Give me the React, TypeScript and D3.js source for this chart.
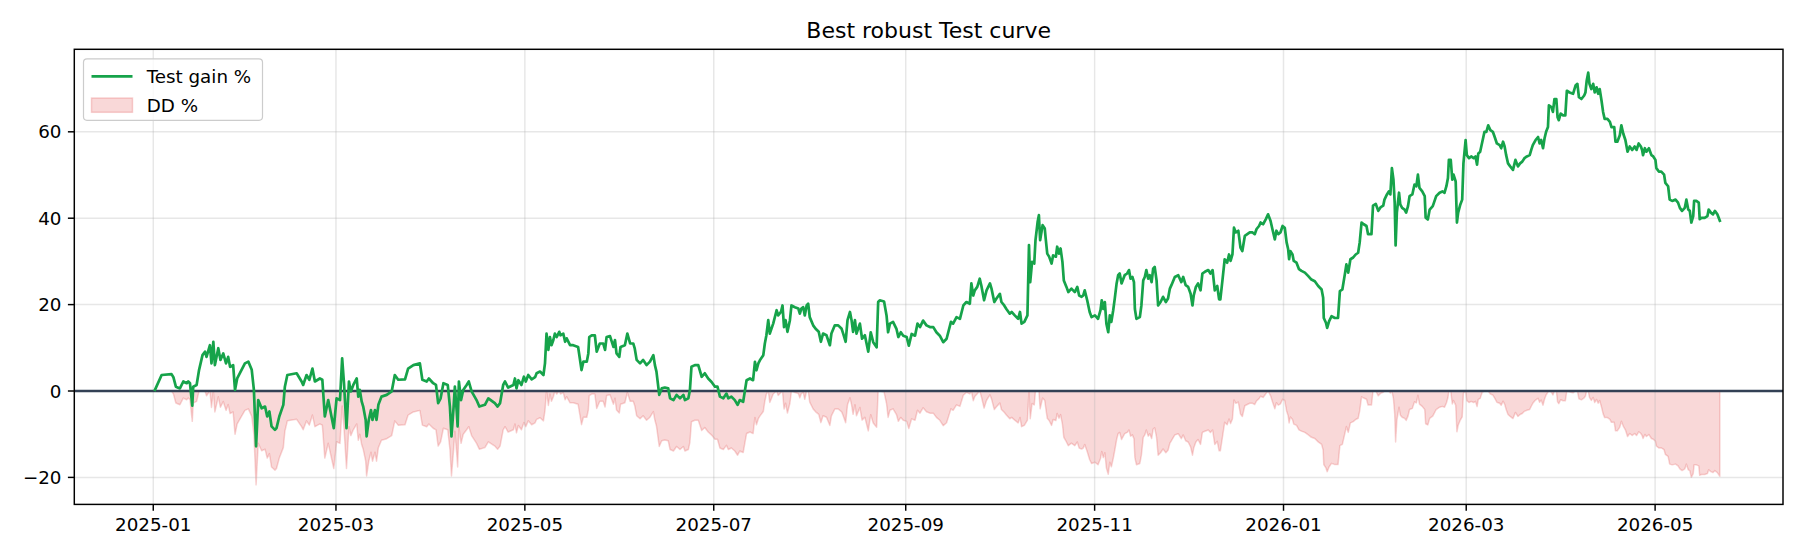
import * as d3 from 'd3';

const WIDTH = 1820;
const HEIGHT = 560;
const MARGIN = { top: 49.3, right: 37, bottom: 55.6, left: 74.3 };

const TITLE = 'Best robust Test curve';
const FONT = '"DejaVu Sans", sans-serif';

// test gain % : [days since 2025-01-01, gain %]
const GAIN_JAN_FEB_2025: [number, number][] = [
    [0.55, 0.25], [2.7, 3.7], [5.9, 3.9], [6.5, 3.2], [7.3, 1.0], [8.6, 0.6], [9.7, 2.2], [10.8, 1.8],
    [11.3, 2.2], [11.85, 1.8], [12.6, -3.4], [12.9, 1.0], [14, 1.4], [14.8, 4.9], [15.9, 8.3], [16.7, 9.1],
    [17.2, 7.9], [18.3, 10.6], [18.8, 6.4], [19.4, 11.4], [19.9, 6.0], [21, 9.9], [21.7, 7.2], [22.6, 8.7],
    [23.5, 6.4], [24.2, 7.9], [24.8, 5.6], [25.8, 6.0], [26.4, 0.25], [27.1, 2.9], [29.6, 6.4], [30.7, 6.8],
    [31.8, 4.9], [32.5, 0.25], [33.2, -12.8], [33.9, -2.1], [35, -4], [36.1, -3.6], [36.8, -5.9], [37.5, -4.75],
    [38.2, -8.2], [39.3, -9], [39.8, -8.6], [40.7, -5.9], [42, -3.2], [42.5, 1], [43.3, 3.7], [46.3, 4.1],
    [47.9, 2.2], [48.4, 1.4], [49.5, 3.7], [50.4, 2.6], [51.4, 5.2], [52.2, 2.2], [53.8, 2.9], [54.6, 2.6],
    [55.4, -5.9], [56.5, -2.1],
];

const GAIN_MAR_APR_2025: [number, number][] = [
    [58.3, -8.6], [59.2, -1.7], [60.3, -2.1], [61.0, 7.55], [61.6, 1.8], [62.4, -8.6], [63.2, 2.2], [63.8, -0.1],
    [64.6, 1.4], [65.7, 2.9], [66.2, -1.3], [66.7, 0.25], [67.3, -2.4], [67.8, -3.6], [68.6, -6.7], [68.9, -10.5],
    [69.6, -6.7], [70.3, -4.4], [70.8, -6.7], [71.6, -4.4], [72.1, -6.7], [72.7, -3.2], [73.7, -1.3], [75.4, -0.9],
    [77, -0.1], [78.0, 3.7], [79.1, 2.6], [81.3, 2.7], [82.3, 5.2], [84.0, 6.0], [86.1, 6.4], [86.9, 2.6],
    [88.3, 2.2], [89.0, 2.9], [90.4, 1.8], [91.3, 1.4], [92.0, -2.8], [92.8, -1.7], [93.7, 1.8], [95.1, 1.4],
    [95.8, -3.6], [96.3, -10.5], [97.0, -3.6], [97.4, 1], [98.0, -4.75], [98.3, -8.2], [98.7, 2.2], [99.4, -2.1],
    [100.1, 0.25], [101.2, 1.4], [101.9, 2.2], [102.8, -0.1], [104.4, -2.1], [105.3, -3.6], [107.1, -3.2],
    [108.2, -1.7], [110.3, -2.8], [111.2, -3.6],
];

const GAIN_MAY_JUN_2025: [number, number][] = [
    [112, -2.8], [113.0, 1.4], [113.6, 2.2], [114.6, 0.8], [116.3, 1.4], [116.8, 2.9], [117.3, 0.6], [117.9, 2.5],
    [118.9, 1.4], [119.7, 3.3], [120.3, 2.2], [121.1, 3.7], [122.2, 2.7], [123.3, 3.2], [123.8, 4.1], [124.9, 4.5],
    [126, 3.7], [126.5, 6.4], [127.0, 13.3], [127.6, 9.5], [128.1, 12.5], [128.6, 10.6], [129.2, 11.8], [129.7, 13.3],
    [130.3, 12.5], [131.1, 13.7], [131.5, 12.9], [132.4, 13.3], [133, 11.4], [133.5, 12.2], [134.6, 10.6],
    [135.6, 10.6], [137.2, 10.2], [138.3, 4.85], [138.9, 6.8], [140, 6.8], [140.5, 8.7], [140.8, 12.5],
    [141.6, 12.9], [142.6, 12.9], [143.2, 9.1], [144.2, 11], [145.3, 11], [145.9, 9.5], [146.4, 12.5],
    [147.5, 12.7], [148.6, 10.2], [149.1, 11.8], [149.6, 8.7], [150.5, 7.9], [150.9, 10.2], [152.3, 10.6],
    [153.1, 13.3], [154, 11], [155, 11], [155.5, 9.8], [156.1, 7.2], [157.2, 6.4], [158.2, 7.2], [159.3, 6],
    [160.4, 6.8], [161.5, 8.3], [162, 6], [162.5, 4.5], [163.4, -0.9], [164.2, 0.6], [165.2, 0.8], [166.3, 0.6],
    [166.9, -1.7], [168, -2.1], [169, -0.9], [170.1, -1.7], [171.2, -0.9], [171.7, -2.1], [172.8, -1.7],
    [173.3, 0.2], [173.8, 5.6], [174.9, 6],
];

const GAIN_JUL_AUG_2025: [number, number][] = [
    [176, 6], [177.1, 3.3], [178.1, 4.1], [179.2, 2.9], [180.3, 2.1], [181.4, 1], [182.2, 1], [183, -1.3],
    [184.1, -1.7], [185.1, -0.6], [185.7, -1.7], [186.7, -1.3], [187.8, -2.1], [188.7, -3.2], [189.4, -2.1],
    [190.5, -2.5], [191.0, -0.2], [191.6, 2.5], [192.7, 2.9], [193.7, 2.5], [194.3, 6.75], [194.8, 4.8],
    [195.4, 6.4], [195.9, 7.1], [197, 8.3], [197.5, 11], [198.0, 12.9], [198.6, 16.4], [199.1, 13.3],
    [200.2, 15.6], [201.3, 18.7], [201.8, 17.5], [202.7, 18.3], [203.2, 19.8], [203.7, 14.8], [204.2, 16.4],
    [204.8, 13.7], [205.6, 16.4], [206.1, 19.8], [207.2, 19.4], [208.3, 19.1], [208.8, 17.9], [209.3, 19.1],
    [209.9, 19.4], [210.4, 17.5], [211, 19.8], [211.5, 20.2], [212, 17.1], [213.1, 15.2], [213.9, 14.4],
    [214.9, 13.7], [215.6, 11.4], [216.3, 13.3], [217.4, 12.9], [218.5, 10.6], [219, 13.3], [220.1, 15.2],
    [221.2, 15.2], [222.3, 14.4], [222.8, 13.3], [223.6, 11.4], [224.2, 16.4], [225, 18.3], [225.5, 16.4],
    [226, 13.7], [226.6, 16.4], [227.1, 13.3], [228.2, 15.6], [228.9, 12.1], [229.8, 12.9], [230.9, 9.1],
];

const GAIN_SEP_OCT_2025: [number, number][] = [
    [231.7, 13.6], [232.5, 11.3], [233.6, 10.1], [234.1, 20.6], [234.6, 21], [236.0, 20.7], [236.8, 17.5],
    [237.3, 13.6], [237.9, 15.6], [238.9, 16], [240.0, 14.4], [240.6, 12.5], [241.4, 13.6], [242.2, 12.8],
    [243.3, 12.5], [244, 10.5], [244.9, 13.2], [246, 12.8], [246.8, 15.6], [247.6, 14.8], [248.6, 16.3],
    [249.7, 15.2], [250.8, 14.8], [251.9, 14.8], [252.9, 13.6], [254, 12.8], [255.1, 11.3], [256.2, 12.1],
    [257.6, 16], [258.3, 15.6], [259.4, 17.1], [260.5, 16.7], [261.6, 19.8], [262.6, 20.6], [263.7, 20.2],
    [264.2, 24.9], [264.8, 22.1], [265.3, 23.3], [266.1, 24.1], [266.9, 26], [267.5, 24.1], [268.3, 21],
    [269.1, 23.3], [270.2, 24.9], [270.7, 23.7], [271.6, 20.6], [272.3, 21.4], [273.4, 22.5], [273.9, 20.6],
    [274.8, 19.8], [275.5, 19], [276.6, 17.9], [277.2, 18.3], [278.2, 17.5], [279.3, 16.7], [279.9, 18.3],
    [280.4, 15.6], [281.3, 16], [282.3, 17.5], [282.8, 33.8], [283.2, 25.2], [283.8, 29.9], [284.5, 29.5],
    [284.9, 34.9], [285.6, 39.2], [286, 40.7], [286.4, 34.9],
    [287.2, 38.4], [287.9, 37.6], [288.2, 35.3], [288.7, 31.8], [289.3, 31.1], [290.1, 29.5], [290.6, 31.4],
    [291.5, 31.1], [291.9, 33.4], [292.5, 31.8], [293, 33], [293.6, 29.9], [294.05, 25.6], [294.9, 24.1],
    [295.5, 22.9], [296.5, 23.7], [297.6, 22.9], [298.4, 24.1], [299, 22.1], [299.8, 21.8], [300.3, 22.1],
    [300.8, 23.3], [301.6, 21], [302.4, 18.3], [303, 17.1],
];

const GAIN_NOV_DEC_2025: [number, number][] = [
    [304.1, 17.5], [305.1, 16.7], [305.9, 18.7], [306.3, 21], [306.8, 19], [307.3, 20.6], [307.8, 15.6],
    [308.4, 13.6], [308.9, 17.5], [309.4, 16], [310, 18.7], [310.5, 21.4], [311.1, 24.9], [311.6, 26.8],
    [312.1, 27.2], [312.7, 24.9], [313.7, 26.8], [314.5, 27.2], [315.1, 28], [315.6, 26], [316.2, 26.4],
    [316.7, 25.2], [317, 19], [317.5, 16.7], [318.6, 17.1], [319.1, 19.8], [319.7, 25.6], [320.2, 26.4],
    [320.7, 28], [321.3, 26], [321.8, 26.8], [322.4, 25.2], [322.9, 28.3], [323.4, 28.7], [324, 25.6],
    [324.5, 19.8], [325.3, 20.6], [326.1, 21.8], [327, 20.6], [327.7, 21.4], [328.3, 23.7], [328.8, 24.5],
    [329.9, 26.4], [331, 26.8], [332, 25.2], [332.6, 26.4], [333.4, 24.5], [334.2, 24.1], [335, 22.5],
    [335.6, 19.8], [336, 22.1], [336.7, 24.1], [337.4, 24.9], [338.2, 23.3], [338.8, 27.2], [339.6, 27.6],
    [340.7, 28], [341.4, 27.2], [342.1, 28], [342.8, 23.3],
    [343.6, 24.3], [344.2, 21.2], [344.6, 21.2], [345.3, 25.8], [346.0, 30.5], [346.8, 29.7], [347.4, 31.6],
    [347.9, 30.1], [348.5, 31.6], [349, 37.8], [349.6, 36.7], [350.4, 37.1], [351.1, 33.2], [351.7, 32.4],
    [352.5, 35.9], [353.3, 36.3], [354.1, 36.7], [355, 36.7], [355.7, 36.3], [356.3, 37.5], [357.1, 38.2],
    [357.6, 39], [358.4, 38.6], [359.3, 39.8], [360, 40.9], [360.8, 39.4], [361.4, 37.5], [362.2, 35.1],
    [362.7, 37.1], [363.3, 36.3], [364, 36.7], [364.7, 38.2],
];

const GAIN_JAN_FEB_2026: [number, number][] = [
    [365.4, 37.8], [366, 34.4], [366.5, 32.8], [366.8, 30.5], [367.2, 32.4], [367.9, 31.6], [368.3, 30.1],
    [369.2, 29.7], [370, 28.2], [370.8, 27.8], [371.9, 27.4], [373, 26.6], [374, 25.8], [375.1, 25.4],
    [376.2, 24.3], [377.3, 23.5], [377.8, 21.6], [378, 16.9], [378.7, 15.8], [379.1, 14.6], [379.7, 16.1],
    [380.5, 17.3], [381.6, 16.9], [382.6, 16.9], [383.2, 23.1], [384, 23.5], [384.8, 27], [385.3, 29.3],
    [385.9, 27.4], [386.6, 30.5], [387.5, 30.9], [388.3, 31.6], [389.1, 32], [389.6, 34.4], [390.2, 39],
    [390.9, 38.6], [391.8, 38.2], [392.3, 36.3], [393.4, 36.3], [393.9, 42.9], [394.8, 43.3], [395.6, 41.7],
    [396.3, 42.5], [397.2, 42.9],
    [397.6, 44.3], [398.4, 45.5], [399, 46.2], [399.5, 45.5], [400, 51.6], [400.5, 48.9], [400.9, 43.6],
    [401.2, 33.7], [401.6, 41.3], [402.3, 45.9], [402.7, 43.2], [403.3, 42.4], [404.1, 42], [404.6, 41.3],
    [405.2, 42.8], [405.7, 45.1], [406.6, 45.5], [407.3, 47.8], [407.9, 47.4], [408.4, 50.1], [408.9, 47],
    [409.8, 46.2], [410.6, 45.1], [410.9, 40.1], [411.6, 39.7], [412.2, 42], [413.2, 42.8], [414.3, 45.1],
    [415.4, 45.9], [416.3, 46.2], [417, 45.9], [417.6, 47.4], [418.1, 49.3], [418.4, 53.5], [419, 53.5],
    [419.5, 48.9], [419.9, 50.1], [420.6, 48.5], [421, 39], [421.4, 41.3], [422.1, 43.2], [422.7, 44.3],
    [423.1, 52.7],
];

const GAIN_MAR_APR_2026: [number, number][] = [
    [423.8, 58.1], [424.2, 54.6], [424.9, 53.9], [425.6, 54.3], [426.4, 53.9], [427, 54.3], [427.5, 52.4],
    [427.9, 55], [428.5, 55.4], [429.2, 57.7], [429.9, 60], [430.5, 60], [431.1, 61.5], [431.8, 60.4],
    [432.6, 60], [433.2, 58.8], [433.9, 57.3], [434.8, 56.9], [435.3, 56.2], [435.9, 57.7], [436.4, 56.6],
    [436.9, 54.6], [437.5, 52.7], [438.2, 52], [439.1, 51.2], [439.9, 53.5], [440.7, 52], [441.4, 52.7],
    [442.1, 53.1], [442.8, 53.9], [443.6, 54.3], [444.5, 54.6], [445, 55.8], [445.5, 56.9], [446.4, 58.1],
    [447.2, 58.8], [447.7, 57.3], [448.2, 58.1], [448.8, 56.2], [449.3, 58.5], [449.8, 60], [450.4, 61.1],
    [450.7, 66.1], [451.5, 65.7], [452, 64.6], [452.5, 67.6],
    [453.1, 67.6], [453.5, 63.4], [453.9, 62.7], [454.5, 64.2], [455.3, 63.8], [456, 63.8], [456.5, 69.5],
    [457.4, 69.1], [458.5, 68.8], [459.3, 70.7], [459.9, 71.1], [460.4, 68], [461.2, 67.6], [462.1, 68.4],
    [462.5, 69.1], [462.9, 71.8], [463.4, 73.7], [463.8, 71.1], [464.4, 69.9], [465, 71.1], [465.5, 69.1],
    [466.1, 70.3], [466.6, 68.8], [467.1, 69.9], [467.7, 67.2], [468.2, 64.6], [468.7, 63], [469.6, 63],
    [470.4, 62.3], [470.9, 61.1], [471.8, 61.1], [472.2, 57.7], [472.8, 57.7], [473.6, 59.2], [474.1, 61.5],
    [474.7, 59.6], [475.4, 58.1], [476.1, 55.4], [476.8, 56.6], [477.6, 55.8], [478.4, 56.6], [479, 55.8],
    [479.7, 57.3], [480.4, 56.6], [480.8, 55.8], [481.1, 54.6], [481.7, 56.2], [482.2, 55.4], [483, 56.2],
    [483.8, 54.6], [484.4, 54.3],
];

const GAIN_MAY_2026: [number, number][] = [
    [485.1, 53.5], [485.4, 51.6], [486.2, 50.8], [487, 50.8], [487.9, 50.1], [488.3, 48.2], [489.2, 47.4],
    [489.7, 44.3], [490.5, 44], [491.6, 44.3], [492.4, 43.6], [493, 42.4], [493.7, 41.7], [494.6, 42.4],
    [495.1, 44.3], [495.7, 42], [496.2, 41.7], [496.7, 39], [497.3, 40.5], [497.6, 44], [498.3, 44],
    [499.1, 43.6], [499.4, 39.8], [500, 40.1], [501, 40.1], [501.9, 40.5], [502.3, 42], [503, 41.3],
    [503.7, 40.9], [504.3, 41.7], [505.1, 40.9], [505.9, 39.4],
];

const X_TICKS = ['2025-01', '2025-03', '2025-05', '2025-07', '2025-09', '2025-11', '2026-01', '2026-03', '2026-05'];
const Y_TICKS = [-20, 0, 20, 40, 60];
const X_LIMITS = [-25.5, 526.3]; // days since 2025-01-01
const Y_LIMITS = [-26.25, 79.1];

const GREEN = '#16a34a';
const RED = '#dc2626';
const ZERO = '#334155';

const START = Date.UTC(2025, 0, 1);
const toDate = (d: number) => new Date(START + d * 864e5);
const parseMonth = d3.utcParse('%Y-%m');
const fmtY = (v: number) => (v < 0 ? '\u2212' + Math.abs(v) : String(v));

type Pt = { date: Date; gain: number; dd: number };

export default function App() {
    const raw = [
        ...GAIN_JAN_FEB_2025, ...GAIN_MAR_APR_2025, ...GAIN_MAY_JUN_2025, ...GAIN_JUL_AUG_2025,
        ...GAIN_SEP_OCT_2025, ...GAIN_NOV_DEC_2025, ...GAIN_JAN_FEB_2026, ...GAIN_MAR_APR_2026, ...GAIN_MAY_2026,
    ];

    // drawdown from the running equity peak
    let peak = 0;
    const data: Pt[] = raw.map(([d, g]) => {
        peak = Math.max(peak, g);
        return { date: toDate(d), gain: g, dd: ((1 + g / 100) / (1 + peak / 100) - 1) * 100 };
    });

    const left = MARGIN.left;
    const right = WIDTH - MARGIN.right;
    const top = MARGIN.top;
    const bottom = HEIGHT - MARGIN.bottom;

    const xScale = d3.scaleUtc().domain([toDate(X_LIMITS[0]), toDate(X_LIMITS[1])]).range([left, right]);
    const yScale = d3.scaleLinear().domain(Y_LIMITS).range([bottom, top]);

    const linePath = d3.line<Pt>().x(d => xScale(d.date)).y(d => yScale(d.gain))(data) ?? '';
    const ddPath = d3.area<Pt>().x(d => xScale(d.date)).y0(yScale(0)).y1(d => yScale(d.dd))(data) ?? '';

    const xTicks = X_TICKS.map(t => ({ label: t, x: xScale(parseMonth(t) as Date) }));

    const fontSize = 18.3;
    const tickLen = 6.4;

    return (
        <svg width={WIDTH} height={HEIGHT} style={{ position: 'absolute', left: 0, top: 0, background: '#fff' }}
            fontFamily={FONT}>
            <rect x={0} y={0} width={WIDTH} height={HEIGHT} fill="#fff" />
            <text x={(left + right) / 2} y={37.5} textAnchor="middle" fontSize={22} fill="#000">{TITLE}</text>

            <path d={ddPath} fill={RED} fillOpacity={0.18} stroke={RED} strokeOpacity={0.2} strokeWidth={1.5}
                strokeLinejoin="round" />

            {/* grid */}
            {xTicks.map(t => (
                <line key={t.label} x1={t.x} x2={t.x} y1={top} y2={bottom} stroke="#b0b0b0" strokeOpacity={0.3}
                    strokeWidth={1.47} />
            ))}
            {Y_TICKS.map(v => (
                <line key={v} x1={left} x2={right} y1={yScale(v)} y2={yScale(v)} stroke="#b0b0b0"
                    strokeOpacity={0.3} strokeWidth={1.47} />
            ))}

            <line x1={left} x2={right} y1={yScale(0)} y2={yScale(0)} stroke={ZERO} strokeWidth={2.5} />
            <path d={linePath} fill="none" stroke={GREEN} strokeWidth={2.7} strokeLinejoin="round"
                strokeLinecap="square" />

            {/* spines */}
            <rect x={left} y={top} width={right - left} height={bottom - top} fill="none" stroke="#000"
                strokeWidth={1.47} />

            {/* x axis */}
            {xTicks.map(t => (
                <g key={t.label}>
                    <line x1={t.x} x2={t.x} y1={bottom} y2={bottom + tickLen} stroke="#000" strokeWidth={1.47} />
                    <text x={t.x} y={bottom + tickLen + 6.4} dy="0.76em" textAnchor="middle" fontSize={fontSize}
                        fill="#000">{t.label}</text>
                </g>
            ))}

            {/* y axis */}
            {Y_TICKS.map(v => (
                <g key={v}>
                    <line x1={left - tickLen} x2={left} y1={yScale(v)} y2={yScale(v)} stroke="#000"
                        strokeWidth={1.47} />
                    <text x={left - tickLen - 6.4} y={yScale(v)} dy="0.36em" textAnchor="end" fontSize={fontSize}
                        fill="#000">{fmtY(v)}</text>
                </g>
            ))}

            {/* legend */}
            <g>
                <rect x={83.5} y={58.8} width={179} height={61.5} rx={3.5} fill="#fff" fillOpacity={0.8}
                    stroke="#cccccc" strokeWidth={1.2} />
                <line x1={91.5} x2={132.5} y1={76.3} y2={76.3} stroke={GREEN} strokeWidth={2.7} />
                <text x={146.7} y={82.7} fontSize={fontSize} fill="#000">Test gain %</text>
                <rect x={91.5} y={98} width={41} height={14.3} fill={RED} fillOpacity={0.18} stroke={RED}
                    strokeOpacity={0.2} strokeWidth={1.5} />
                <text x={146.7} y={112.3} fontSize={fontSize} fill="#000">DD %</text>
            </g>
        </svg>
    );
}
